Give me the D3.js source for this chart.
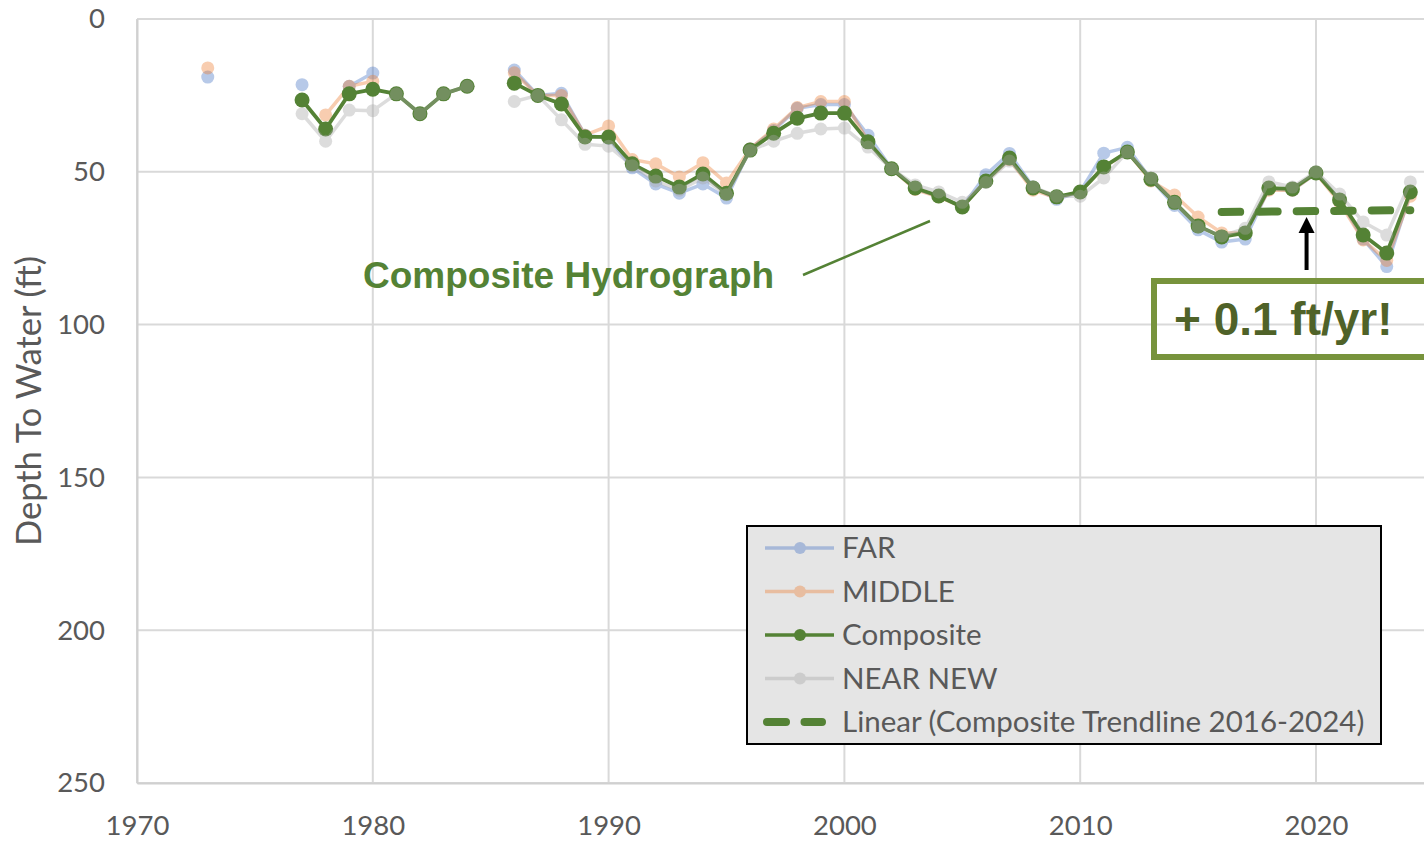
<!DOCTYPE html>
<html>
<head>
<meta charset="utf-8">
<script src="https://cdn.jsdelivr.net/npm/d3@7"></script>
<style>
  html, body { margin: 0; padding: 0; background: #fff; overflow: hidden; }
  svg { display: block; }
</style>
</head>
<body>
<div id="container"></div>
<script>
// Depth to water hydrographs, one value per year (null = no reading)
const years = [1973, 1974, 1975, 1976, 1977, 1978, 1979, 1980, 1981, 1982, 1983, 1984, 1985,
  1986, 1987, 1988, 1989, 1990, 1991, 1992, 1993, 1994, 1995, 1996, 1997, 1998, 1999,
  2000, 2001, 2002, 2003, 2004, 2005, 2006, 2007, 2008, 2009, 2010, 2011, 2012, 2013,
  2014, 2015, 2016, 2017, 2018, 2019, 2020, 2021, 2022, 2023, 2024];

const far = [19, null, null, null, 21.5, null, 22, 17.7, null, null, null, null, null,
  16.7, 25, 24.3, 38, 39, 48.7, 54, 57, 54, 58.6, 42.5, 36.5, 29.2, 28,
  28, 38, 49, 55.5, 58, 61.5, 51, 44, 55, 59, 56.5, 43.9, 42, 52.5,
  61, 69, 73, 72, 55.5, 56, 50.5, 59, 72, 81, 57];

const middle = [16, null, null, null, null, 31.4, 22, 20.4, null, null, null, null, null,
  17.6, 25, 25, 38, 35, 46, 47.4, 51.7, 47, 53.7, 42.5, 36, 29, 27,
  27, 40, 49, 55.8, 58.2, 61.5, 53, 46, 56, 58.5, 56.5, 48.5, 43.5, 53,
  57.6, 64.8, 70, 70, 56, 56, 50.5, 60, 72.3, 79, 58];

const composite = [null, null, null, null, 26.5, 36, 24.5, 23, 24.5, 31, 24.5, 22, null,
  21, 25, 27.8, 38.6, 38.6, 47.4, 51.4, 55, 50.7, 57, 42.9, 37.4, 32.5, 30.8,
  30.8, 40.2, 49, 55.3, 57.9, 61.5, 53, 45.5, 55.3, 58.2, 56.6, 48.4, 43.5, 52.4,
  60, 67.7, 71.3, 70, 55.3, 55.6, 50.4, 59.2, 70.7, 76.6, 56.6];

const nearNew = [null, null, null, null, 31, 40, 29.8, 30, 24.5, 31, 24.5, 22, null,
  27, 25, 33, 41, 41.6, 48, 53, 56, 52, 57.5, 43, 40, 37.4, 36,
  35.7, 41.9, 49, 54.3, 56.6, 60, 53.5, 46.5, 55, 58, 58, 52, 43.5, 52,
  60, 68, 71, 68.5, 53.3, 55, 50, 57.3, 66.4, 70.7, 53.3];

const trendYears = [2016, 2024];
const yTicks = [0, 50, 100, 150, 200, 250];
const xTicks = [1970, 1980, 1990, 2000, 2010, 2020];

const series = [
  { name: "FAR", values: far, color: "#4472c4", opacity: 0.38, width: 3.5, r: 6.5 },
  { name: "MIDDLE", values: middle, color: "#ed7d31", opacity: 0.38, width: 3.5, r: 6.5 },
  { name: "Composite", values: composite, color: "#548235", opacity: 1, width: 3.8, r: 7.5 },
  { name: "NEAR NEW", values: nearNew, color: "#a5a5a5", opacity: 0.38, width: 3.5, r: 6.5 }
];

const W = 1424, H = 841;
const svg = d3.select("#container").append("svg")
  .attr("width", W).attr("height", H);

svg.append("rect").attr("width", W).attr("height", H).attr("fill", "#fff");

const x = d3.scaleLinear().domain([1970, 2030]).range([137, 137 + 60 * 23.58]);
const y = d3.scaleLinear().domain([0, 250]).range([19, 783]);

const axisFont = "Lato, 'Open Sans', sans-serif";
const axisColor = "#595959";

// gridlines
const grid = svg.append("g");
grid.selectAll("line.h").data(yTicks).enter().append("line")
  .attr("x1", x(1970)).attr("x2", W)
  .attr("y1", d => y(d)).attr("y2", d => y(d))
  .attr("stroke", "#d9d9d9").attr("stroke-width", 2);
grid.selectAll("line.v").data(xTicks).enter().append("line")
  .attr("x1", d => x(d)).attr("x2", d => x(d))
  .attr("y1", y(0)).attr("y2", y(250))
  .attr("stroke", "#d9d9d9").attr("stroke-width", 2);

// axes
const yAxis = svg.append("g")
  .attr("transform", `translate(${x(1970)},0)`)
  .call(d3.axisLeft(y).tickValues(yTicks).tickSize(0).tickPadding(32));
const xAxis = svg.append("g")
  .attr("transform", `translate(0,${y(250)})`)
  .call(d3.axisBottom(x).tickValues(xTicks).tickFormat(d3.format("d")).tickSize(0).tickPadding(32));
[yAxis, xAxis].forEach(g => {
  g.select(".domain").attr("stroke", "#d0d0d0").attr("stroke-width", 2);
  g.selectAll("text").attr("fill", axisColor).attr("font-family", axisFont).attr("font-size", 27.5);
});

svg.append("text")
  .attr("transform", `translate(41,${(y(0) + y(250)) / 2}) rotate(-90)`)
  .attr("text-anchor", "middle")
  .attr("fill", axisColor).attr("font-family", axisFont).attr("font-size", 34.5)
  .text("Depth To Water (ft)");

// series
const line = d3.line()
  .defined(d => d.v != null)
  .x(d => x(d.year)).y(d => y(d.v));

series.forEach(s => {
  const pts = years.map((yr, i) => ({ year: yr, v: s.values[i] }));
  const g = svg.append("g").attr("opacity", s.opacity);
  g.append("path").datum(pts)
    .attr("d", line).attr("fill", "none")
    .attr("stroke", s.color).attr("stroke-width", s.width)
    .attr("stroke-linejoin", "round");
  g.selectAll("circle").data(pts.filter(d => d.v != null)).enter().append("circle")
    .attr("cx", d => x(d.year)).attr("cy", d => y(d.v)).attr("r", s.r)
    .attr("fill", s.color);
});

// linear trendline on composite 2016-2024
const tr = years.map((yr, i) => ({ year: yr, v: composite[i] }))
  .filter(d => d.year >= trendYears[0] && d.year <= trendYears[1] && d.v != null);
const mx = d3.mean(tr, d => d.year), my = d3.mean(tr, d => d.v);
const slope = d3.sum(tr, d => (d.year - mx) * (d.v - my)) / d3.sum(tr, d => (d.year - mx) ** 2);
const fit = yr => my + slope * (yr - mx);
svg.append("line")
  .attr("x1", x(trendYears[0])).attr("y1", y(fit(trendYears[0])))
  .attr("x2", x(trendYears[1])).attr("y2", y(fit(trendYears[1])))
  .attr("stroke", "#548235").attr("stroke-width", 8)
  .attr("stroke-linecap", "round")
  .attr("stroke-dasharray", "18.5 19");

// annotations
svg.append("text")
  .attr("x", 363).attr("y", 288)
  .attr("fill", "#548235").attr("font-family", "'Liberation Sans', Arial, sans-serif")
  .attr("font-weight", "bold").attr("font-size", 37)
  .text("Composite Hydrograph");
svg.append("line")
  .attr("x1", 803).attr("y1", 275).attr("x2", 930).attr("y2", 221)
  .attr("stroke", "#548235").attr("stroke-width", 2.5);

const ax = x(2019.6);
svg.append("line")
  .attr("x1", ax).attr("x2", ax).attr("y1", 270).attr("y2", 230)
  .attr("stroke", "#000").attr("stroke-width", 4);
svg.append("path")
  .attr("d", `M${ax},217 L${ax - 8},233 L${ax + 8},233 Z`)
  .attr("fill", "#000");

svg.append("rect")
  .attr("x", 1154).attr("y", 281).attr("width", 300).attr("height", 76)
  .attr("fill", "none").attr("stroke", "#77933c").attr("stroke-width", 6);
svg.append("text")
  .attr("x", 1174).attr("y", 335)
  .attr("fill", "#4f6228").attr("font-family", "'Liberation Sans', Arial, sans-serif")
  .attr("font-weight", "bold").attr("font-size", 46)
  .text("+ 0.1 ft/yr!");

// legend
const legend = svg.append("g");
legend.append("rect")
  .attr("x", 747).attr("y", 526).attr("width", 634).attr("height", 218)
  .attr("fill", "#e5e5e5").attr("stroke", "#000").attr("stroke-width", 2);

const legendItems = series.map(s => ({ name: s.name, s }))
  .concat([{ name: "Linear (Composite Trendline 2016-2024)", trend: true }]);
const rowY = d3.scalePoint().domain(legendItems.map(d => d.name)).range([548, 722]);

legendItems.forEach(d => {
  const cy = rowY(d.name);
  if (d.trend) {
    legend.append("line")
      .attr("x1", 767).attr("x2", 822).attr("y1", cy).attr("y2", cy)
      .attr("stroke", "#548235").attr("stroke-width", 8)
      .attr("stroke-linecap", "round").attr("stroke-dasharray", "19 18.5");
  } else {
    const g = legend.append("g").attr("opacity", d.s.opacity);
    g.append("line")
      .attr("x1", 765).attr("x2", 834).attr("y1", cy).attr("y2", cy)
      .attr("stroke", d.s.color).attr("stroke-width", 3.5);
    g.append("circle").attr("cx", 800).attr("cy", cy).attr("r", 6).attr("fill", d.s.color);
  }
  legend.append("text")
    .attr("x", 842).attr("y", cy).attr("dy", "0.35em")
    .attr("fill", axisColor).attr("font-family", axisFont).attr("font-size", 29.5)
    .text(d.name);
});
</script>
</body>
</html>
